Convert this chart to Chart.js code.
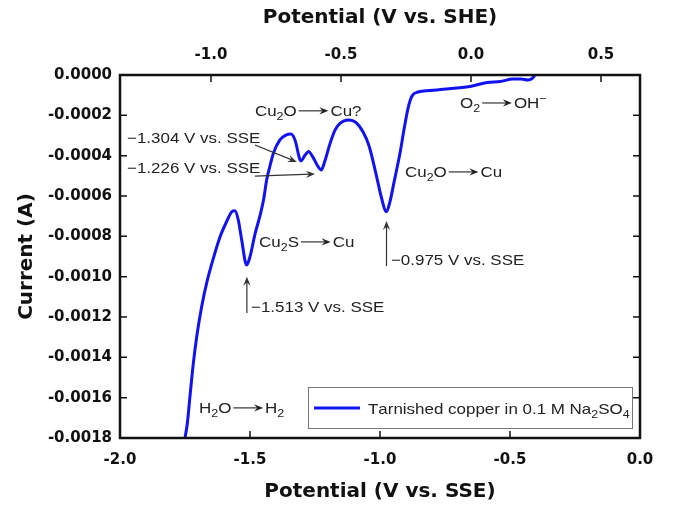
<!DOCTYPE html>
<html lang="en">
<head>
<meta charset="UTF-8">
<title>Tarnished copper in 0.1 M Na2SO4</title>
<script src="https://cdn.jsdelivr.net/npm/chart.js@4.4.0/dist/chart.umd.min.js"></script>
<style>
  html, body { margin: 0; padding: 0; background: #fff; }
  #wrap { width: 676px; height: 506px; }
</style>
</head>
<body>
<div id="wrap"><canvas id="chart" width="676" height="506"></canvas></div>
<script>
// potential (V vs. SSE) and current (A)
const potentialSSE = [
  -1.750, -1.741, -1.731, -1.718, -1.705, -1.686, -1.667, -1.641, -1.615, -1.590,
  -1.570, -1.558, -1.545, -1.532, -1.513, -1.500, -1.481, -1.462, -1.448, -1.436,
  -1.423, -1.410, -1.385, -1.362, -1.342, -1.327, -1.304, -1.288, -1.275, -1.258,
  -1.242, -1.226, -1.212, -1.192, -1.173, -1.154, -1.122, -1.092, -1.065, -1.042,
  -1.013, -0.996, -0.975, -0.962, -0.946, -0.923, -0.908, -0.892, -0.877, -0.854,
  -0.808, -0.758, -0.654, -0.588, -0.538, -0.488, -0.458, -0.431, -0.415, -0.404
];
const current = [
  -0.001801, -0.001727, -0.001595, -0.001430, -0.001298, -0.001149, -0.001033, -0.000909, -0.000802, -0.000727,
  -0.000678, -0.000673, -0.000719, -0.000818, -0.000942, -0.000901, -0.000790, -0.000700, -0.000620, -0.000521,
  -0.000450, -0.000388, -0.000322, -0.000298, -0.000293, -0.000322, -0.000426, -0.000397, -0.000379, -0.000407,
  -0.000446, -0.000471, -0.000426, -0.000339, -0.000273, -0.000240, -0.000223, -0.000236, -0.000283, -0.000352,
  -0.000504, -0.000600, -0.000678, -0.000630, -0.000531, -0.000387, -0.000273, -0.000164, -0.000104, -0.0000843,
  -0.0000769, -0.0000709, -0.0000570, -0.0000372, -0.0000322, -0.0000198, -0.0000198, -0.0000248, -0.0000174, 0
];

const sheOffset = 0.65; // V, SSE -> SHE
const sseTicks = [-2.0, -1.5, -1.0, -0.5, 0.0];
const sheTicks = [-1.0, -0.5, 0.0, 0.5];
const currentTicks = [0, -0.0002, -0.0004, -0.0006, -0.0008, -0.0010, -0.0012, -0.0014, -0.0016, -0.0018];

const seriesLabel = 'Tarnished copper in 0.1 M Na_2SO_4';

// notes: '_x' subscript, '^x' superscript, '->' reaction arrow
const notes = [
  { text: 'Cu_2O->Cu?',        x: -1.481, y: -0.000203 },
  { text: '\u22121.304 V vs. SSE', x: -1.973, y: -0.000337 },
  { text: '\u22121.226 V vs. SSE', x: -1.973, y: -0.000486 },
  { text: 'Cu_2S->Cu',         x: -1.465, y: -0.000853 },
  { text: 'Cu_2O->Cu',         x: -0.904, y: -0.000506 },
  { text: 'O_2->OH^\u2212',    x: -0.692, y: -0.000164 },
  { text: '\u22120.975 V vs. SSE', x: -0.958, y: -0.000942 },
  { text: '\u22121.513 V vs. SSE', x: -1.496, y: -0.001175 },
  { text: 'H_2O->H_2',         x: -1.696, y: -0.001676 }
];
const pointers = [
  { from: [-1.481, -0.000347], to: [-1.320, -0.000431] },
  { from: [-1.481, -0.000501], to: [-1.250, -0.000491] },
  { from: [-0.975, -0.000947], to: [-0.975, -0.000724] },
  { from: [-1.512, -0.001180], to: [-1.512, -0.001000] }
];

const textFont = '"Liberation Sans", Arial, sans-serif';
const stretch = 1.13;

function arrowHead(ctx, x, y, ang, len, half) {
  ctx.save();
  ctx.translate(x, y);
  ctx.rotate(ang);
  ctx.beginPath();
  ctx.moveTo(0, 0);
  ctx.lineTo(-len, -half);
  ctx.lineTo(-len * 0.65, 0);
  ctx.lineTo(-len, half);
  ctx.closePath();
  ctx.fill();
  ctx.restore();
}

function drawRich(ctx, str, x, y, size) {
  ctx.save();
  ctx.translate(x, y);
  ctx.scale(stretch, 1);
  ctx.textBaseline = 'alphabetic';
  ctx.textAlign = 'left';
  let cx = 0;
  for (let i = 0; i < str.length; i++) {
    const ch = str[i];
    if (ch === '_' || ch === '^') {
      const c = str[++i];
      ctx.font = Math.round(size * 0.7) + 'px ' + textFont;
      ctx.fillText(c, cx, ch === '_' ? size * 0.28 : -size * 0.38);
      cx += ctx.measureText(c).width;
    } else if (ch === '-' && str[i + 1] === '>') {
      i++;
      const w = size * 1.75, ay = -size * 0.34;
      cx += size * 0.12;
      ctx.lineWidth = 1.1;
      ctx.beginPath();
      ctx.moveTo(cx, ay);
      ctx.lineTo(cx + w - 4, ay);
      ctx.stroke();
      arrowHead(ctx, cx + w, ay, 0, 8, 3.6);
      cx += w + size * 0.12;
    } else {
      ctx.font = size + 'px ' + textFont;
      ctx.fillText(ch, cx, 0);
      cx += ctx.measureText(ch).width;
    }
  }
  ctx.restore();
}

const framePlugin = {
  id: 'frameAndNotes',
  afterDatasetsDraw(chart) {
    const { ctx, chartArea: a, scales } = chart;
    const x = scales.x, x2 = scales.x2, y = scales.y;
    ctx.save();
    // inward tick marks on all four sides
    ctx.strokeStyle = '#111';
    ctx.lineWidth = 1.5;
    ctx.beginPath();
    sseTicks.forEach(v => {
      const px = x.getPixelForValue(v);
      ctx.moveTo(px, a.bottom); ctx.lineTo(px, a.bottom - 7);
    });
    sheTicks.forEach(v => {
      const px = x2.getPixelForValue(v);
      ctx.moveTo(px, a.top); ctx.lineTo(px, a.top + 7);
    });
    currentTicks.forEach(v => {
      const py = y.getPixelForValue(v);
      ctx.moveTo(a.left, py); ctx.lineTo(a.left + 7, py);
      ctx.moveTo(a.right, py); ctx.lineTo(a.right - 7, py);
    });
    ctx.stroke();
    ctx.lineWidth = 2.5;
    ctx.strokeRect(a.left, a.top, a.right - a.left, a.bottom - a.top);

    // annotations
    ctx.fillStyle = '#222';
    ctx.strokeStyle = '#222';
    notes.forEach(n => drawRich(ctx, n.text, x.getPixelForValue(n.x), y.getPixelForValue(n.y), 15));
    ctx.strokeStyle = '#333';
    ctx.fillStyle = '#333';
    pointers.forEach(p => {
      const x0 = x.getPixelForValue(p.from[0]), y0 = y.getPixelForValue(p.from[1]);
      const x1 = x.getPixelForValue(p.to[0]), y1 = y.getPixelForValue(p.to[1]);
      const ang = Math.atan2(y1 - y0, x1 - x0);
      ctx.lineWidth = 1.2;
      ctx.beginPath();
      ctx.moveTo(x0, y0);
      ctx.lineTo(x1 - 4 * Math.cos(ang), y1 - 4 * Math.sin(ang));
      ctx.stroke();
      arrowHead(ctx, x1, y1, ang, 9, 3.6);
    });

    // legend box
    const bx = a.left + 188, by = a.bottom - 51, bw = a.right - 8 - bx, bh = 41;
    ctx.fillStyle = '#fff';
    ctx.fillRect(bx, by, bw, bh);
    ctx.strokeStyle = '#777';
    ctx.lineWidth = 1;
    ctx.strokeRect(bx + 0.5, by + 0.5, bw, bh);
    const ds = chart.data.datasets[0];
    ctx.strokeStyle = ds.borderColor;
    ctx.lineWidth = ds.borderWidth;
    ctx.beginPath();
    ctx.moveTo(bx + 6, by + 21);
    ctx.lineTo(bx + 52, by + 21);
    ctx.stroke();
    ctx.fillStyle = '#222';
    drawRich(ctx, seriesLabel, bx + 60, by + 27, 15);
    ctx.restore();
  }
};

const tickFont = { family: '"DejaVu Sans", sans-serif', size: 15, weight: 'bold' };
const titleFont = { family: '"DejaVu Sans", sans-serif', size: 20, weight: 'bold' };

new Chart(document.getElementById('chart'), {
  type: 'scatter',
  data: {
    datasets: [{
      label: 'Tarnished copper in 0.1 M Na2SO4',
      data: potentialSSE.map((v, i) => ({ x: v, y: current[i] })),
      showLine: true,
      borderColor: '#1212ee',
      borderWidth: 3,
      pointRadius: 0,
      cubicInterpolationMode: 'monotone',
      fill: false
    }]
  },
  options: {
    responsive: false,
    animation: false,
    devicePixelRatio: 1,
    layout: { autoPadding: false, padding: { left: 0, right: 36, top: 0, bottom: 0 } },
    plugins: { legend: { display: false }, tooltip: { enabled: false } },
    scales: {
      x: {
        type: 'linear', position: 'bottom', min: -2, max: 0,
        afterBuildTicks: s => { s.ticks = sseTicks.map(v => ({ value: v })); },
        afterFit: s => { s.height = 68; },
        grid: { display: false, drawTicks: false },
        border: { display: false },
        ticks: { font: tickFont, color: '#111', padding: 13, maxRotation: 0, autoSkip: false,
                 callback: v => v.toFixed(1) },
        title: { display: true, text: 'Potential (V vs. SSE)', font: titleFont, color: '#111',
                 padding: { top: 0, bottom: 2 } }
      },
      x2: {
        type: 'linear', position: 'top', min: -2 + sheOffset, max: sheOffset,
        afterBuildTicks: s => { s.ticks = sheTicks.map(v => ({ value: v })); },
        afterFit: s => { s.height = 75; },
        grid: { display: false, drawTicks: false },
        border: { display: false },
        ticks: { font: tickFont, color: '#111', padding: 11, maxRotation: 0, autoSkip: false,
                 callback: v => v.toFixed(1) },
        title: { display: true, text: 'Potential (V vs. SHE)', font: titleFont, color: '#111',
                 padding: { top: 6, bottom: 0 } }
      },
      y: {
        type: 'linear', position: 'left', min: -0.0018, max: 0,
        afterBuildTicks: s => { s.ticks = currentTicks.map(v => ({ value: v })); },
        afterFit: s => { s.width = 120; },
        grid: { display: false, drawTicks: false },
        border: { display: false },
        ticks: { font: tickFont, color: '#111', padding: 8, autoSkip: false,
                 callback: v => v.toFixed(4) },
        title: { display: true, text: 'Current (A)', font: titleFont, color: '#111',
                 padding: { top: 15, bottom: 0 } }
      }
    }
  },
  plugins: [framePlugin]
});
</script>
</body>
</html>
